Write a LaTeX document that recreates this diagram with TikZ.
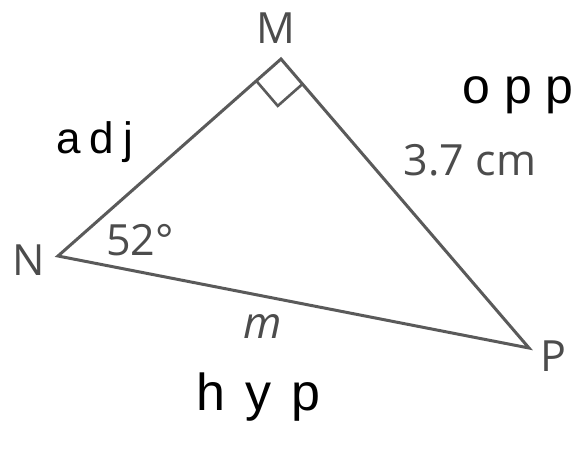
\documentclass[tikz,border=0pt]{standalone}
\usepackage{fontspec}
\setmainfont{Open Sans}
\newfontfamily\handfont{Liberation Sans}
\usetikzlibrary{calc}

\definecolor{edgegray}{HTML}{5A5A5A}
\definecolor{labelgray}{HTML}{4C4C4C}

\begin{document}
\begin{tikzpicture}[x=1pt, y=-1pt,
  side/.style={draw=edgegray, line width=3pt, line join=miter},
  rightmark/.style={draw=edgegray, line width=2.6pt},
  vlabel/.style={text=labelgray, font=\fontsize{43}{43}\selectfont,
    anchor=base, inner sep=0pt},
  hand/.style={text=black, font=\handfont\fontsize{40}{40}\selectfont,
    anchor=base west, inner sep=0pt}
]
\fill[white] (0,0) rectangle (575,456);
\useasboundingbox (0,0) rectangle (575,456);

% vertices
\coordinate (M) at (281,59);
\coordinate (N) at (58,256);
\coordinate (P) at (529,348);

% triangle
\draw[side] (M) -- (N) -- (P) -- cycle;

% right angle at M
\coordinate (ra1) at ($(M)!33pt!(N)$);
\coordinate (ra2) at ($(M)!33pt!(P)$);
\draw[rightmark] (ra1) -- ($(ra1)+(ra2)-(M)$) -- (ra2);

% printed labels
\node[vlabel] (lblM) at (276,43) {M};
\node[vlabel] (lblN) at (29,275) {N};
\node[vlabel] (lblP) at (553,371) {P};
\node[vlabel] (angN) at (140,255) {52°};
\node[vlabel] (sideMP) at (470,175) {3.7 cm};
\node[vlabel, font=\itshape\fontsize{44}{44}\selectfont] (sideNP) at (263,338) {m};

% handwritten notes
\node[hand, font=\handfont\fontsize{44}{44}\selectfont] (adj) at (56,153) {a\kern9pt d\kern9pt j};
\node[hand, font=\handfont\fontsize{50}{50}\selectfont] (opp) at (462,103) {o\kern14pt p\kern14pt p};
\node[hand, font=\handfont\fontsize{52}{52}\selectfont] (hyp) at (196,410) {h\kern20pt y\kern20pt p};
\end{tikzpicture}
\end{document}
